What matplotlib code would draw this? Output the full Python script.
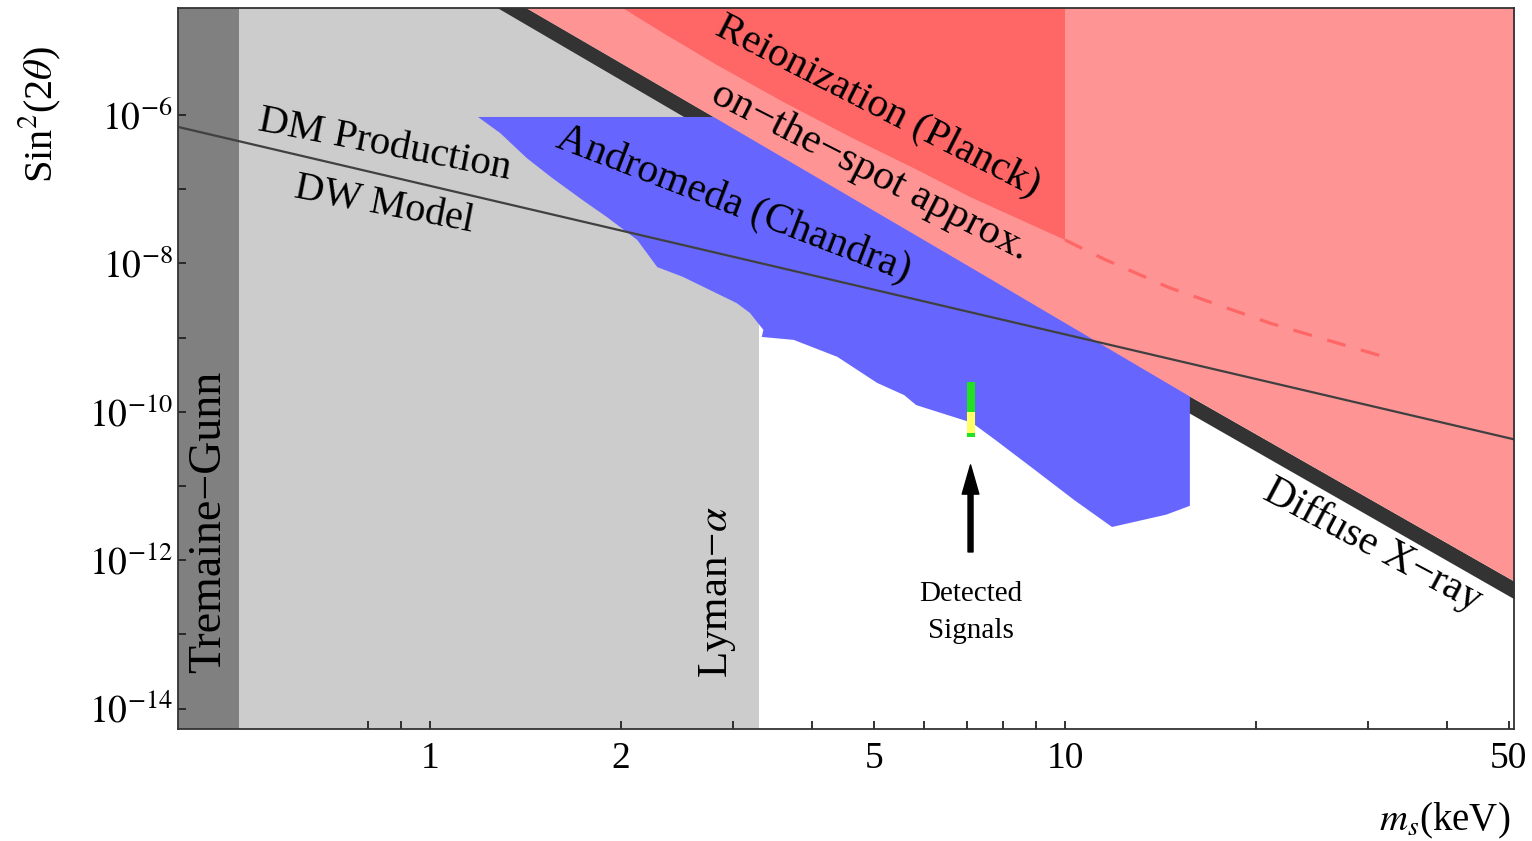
import numpy as np
import matplotlib
matplotlib.use('Agg')
import matplotlib.pyplot as plt
from matplotlib.ticker import FixedLocator, FixedFormatter, NullFormatter

plt.rcParams['font.family'] = ['Liberation Serif', 'DejaVu Serif']
plt.rcParams['mathtext.fontset'] = 'stix'

# ---------------- data ----------------
x_limits = (0.401, 50.95)
y_limits = (5.3e-15, 2.74e-5)

tremaine_gunn_mass = 0.5
lyman_alpha_mass = 3.3

xray_mass = [1.25, 2.8, 7.1, 15.7, 51.0]
xray_upper = [5.2e-5, 9.4e-7, 8.9e-9, 1.63e-10, 5.2e-13]
xray_lower = [3.1e-5, 5.5e-7, 5.25e-9, 9.6e-11, 3.0e-13]

andromeda_mass = [1.19, 3.31, 15.73, 15.73, 14.43, 11.86, 10.33, 8.97, 7.76,
                  7.14, 5.83, 5.58, 5.06, 4.38, 3.74, 3.33, 3.35, 3.19, 3.04,
                  2.50, 2.28, 2.12, 1.90, 1.74, 1.55, 1.42, 1.29]
andromeda_sin2 = [9.4e-7, 9.4e-7, 3.7e-10, 5.4e-12, 4.1e-12, 2.8e-12, 6.5e-12,
                  1.64e-11, 4.2e-11, 7.1e-11, 1.23e-10, 1.68e-10, 2.45e-10,
                  5.5e-10, 9.3e-10, 1.02e-9, 1.27e-9, 2.15e-9, 2.92e-9, 6.6e-9,
                  8.9e-9, 2.07e-8, 4.2e-8, 7.1e-8, 1.46e-7, 2.63e-7, 5.7e-7]

reion_mass = [1.9, 2.01, 2.33, 2.83, 3.60, 4.59, 5.85, 7.09, 10.0]
reion_sin2 = [3.7e-5, 2.77e-5, 1.27e-5, 4.72e-6, 1.50e-6, 5.06e-7, 1.82e-7,
              7.85e-8, 2.07e-8]

reion_ext_mass = [10.0, 11.5, 14.6, 21.1, 31.6]
reion_ext_sin2 = [2.07e-8, 1.15e-8, 4.7e-9, 1.55e-9, 5.6e-10]

dw_mass = [0.401, 50.95]
dw_sin2 = [6.9e-7, 4.25e-11]

signal_mass = 7.1
signal_green = [4.6e-11, 2.5e-10]
signal_yellow = [5.2e-11, 1.0e-10]
arrow_tail = 1.29e-12
arrow_tip = 1.92e-11

x_major = [1, 2, 5, 10, 50]
x_major_labels = ['1', '2', '5', '10', '50']
x_minor = [0.8, 0.9, 3, 4, 6, 7, 8, 9, 20, 30, 40]
y_major_exp = [-14, -12, -10, -8, -6]
y_minor_exp = [-13, -11, -9, -7]

# ---------------- colours ----------------
c_tg = '#808080'
c_ly = '#cccccc'
c_band = '#333333'
c_blue = '#6666ff'
c_lred = '#ff9494'
c_dred = '#ff6666'

# ---------------- figure ----------------
fig = plt.figure(figsize=(15.32, 8.41), dpi=100)
ax = fig.add_axes([0.11619, 0.13317, 0.87206, 0.85696])
ax.set_xscale('log')
ax.set_yscale('log')
ax.set_xlim(*x_limits)
ax.set_ylim(*y_limits)

top = y_limits[1] * 10

ax.axvspan(x_limits[0], tremaine_gunn_mass, color=c_tg, lw=0, zorder=1)
ax.axvspan(tremaine_gunn_mass, lyman_alpha_mass, color=c_ly, lw=0, zorder=1)

ax.fill_between(xray_mass, xray_lower, xray_upper, color=c_band, lw=0, zorder=2)
ax.fill(andromeda_mass, andromeda_sin2, color=c_blue, lw=0, zorder=3)
ax.fill_between(xray_mass, xray_upper, top, color=c_lred, lw=0, zorder=4)

rx = list(reion_mass) + [reion_mass[-1], reion_mass[0]]
ry = list(reion_sin2) + [top, top]
ax.fill(rx, ry, color=c_dred, lw=0, zorder=5)
ax.plot(reion_ext_mass, reion_ext_sin2, color=c_dred, lw=2.3,
        linestyle=(0, (6, 5)), zorder=6)

ax.plot(dw_mass, dw_sin2, color='#404040', lw=1.6, zorder=7)

ax.vlines(signal_mass, signal_green[0], signal_green[1], colors='#22e022',
          lw=5.8, zorder=8)
ax.vlines(signal_mass, signal_yellow[0], signal_yellow[1], colors='#ffff66',
          lw=5.8, zorder=9)

ax.annotate('', xy=(signal_mass, arrow_tip), xytext=(signal_mass, arrow_tail),
            arrowprops=dict(facecolor='black', edgecolor='black', width=3.6,
                            headwidth=12, headlength=21, shrink=0),
            zorder=9)

# ---------------- labels ----------------
tk = dict(color='black', ha='center', va='center', rotation_mode='anchor',
          zorder=10)
ax.text(0.85, 3.9e-7, 'DM Production', fontsize=29.5, rotation=-11, **tk)
ax.text(0.846, 6.1e-8, 'DW Model', fontsize=29, rotation=-11, **tk)
ax.text(3.01, 6.3e-8, 'Andromeda (Chandra)', fontsize=30, rotation=-21, **tk)
ax.text(4.93, 1.7e-7, 'on\u2212the\u2212spot approx.', fontsize=30.5,
        rotation=-27, **tk)
ax.text(5.08, 1.32e-6, 'Reionization (Planck)', fontsize=29.5, rotation=-27,
        **tk)
ax.text(30.5, 1.6e-12, 'Diffuse X\u2212ray', fontsize=30, rotation=-28, **tk)
ax.text(0.449, 3.3e-12, 'Tremaine\u2212Gunn', fontsize=33, rotation=90, **tk)
ax.text(2.84, 3.7e-13, 'Lyman\u2212$\\alpha$', fontsize=31, rotation=90, **tk)
ax.text(signal_mass, 2.0e-13, 'Detected\nSignals', fontsize=21,
        linespacing=1.55, ha='center', va='center', zorder=10)

# ---------------- axes styling ----------------
ax.xaxis.set_major_locator(FixedLocator(x_major))
ax.xaxis.set_major_formatter(FixedFormatter(x_major_labels))
ax.xaxis.set_minor_locator(FixedLocator(x_minor))
ax.xaxis.set_minor_formatter(NullFormatter())

ax.yaxis.set_major_locator(FixedLocator([10.0 ** e for e in y_major_exp]))
ax.yaxis.set_major_formatter(FixedFormatter(
    ['$10^{%d}$' % e for e in y_major_exp]))
ax.yaxis.set_minor_locator(FixedLocator([10.0 ** e for e in y_minor_exp]))
ax.yaxis.set_minor_formatter(NullFormatter())

ax.tick_params(which='both', direction='in', length=6, width=1.3,
               top=False, right=False, labelsize=27, colors='#222222',
               labelcolor='black')
ax.tick_params(axis='x', which='both', pad=9)
ax.tick_params(axis='y', which='both', pad=4)
for s in ax.spines.values():
    s.set_color('#333333')
    s.set_linewidth(1.3)
    s.set_zorder(11)

fig.text(40 / 1532, 1 - 115 / 841, 'Sin$^{2}$(2$\\theta$)', fontsize=29,
         rotation=90, ha='center', va='center')
fig.text(1445 / 1532, 1 - 821 / 841, '$m_s$(keV)', fontsize=28,
         ha='center', va='center')

fig.savefig('out.png', dpi=100)
